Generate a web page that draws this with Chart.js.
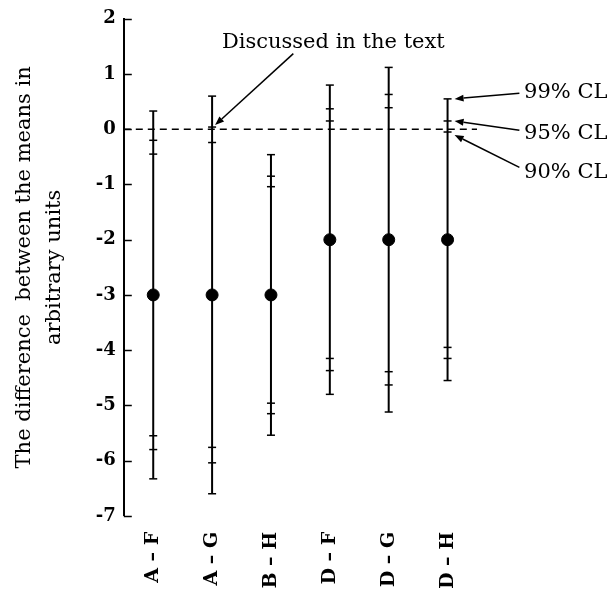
<!DOCTYPE html>
<html>
<head>
<meta charset="utf-8">
<script src="https://cdn.jsdelivr.net/npm/chart.js@4"></script>
<style>
  html, body { margin: 0; padding: 0; background: #fff; }
  #wrap { width: 613px; height: 595px; }
</style>
</head>
<body>
<div id="wrap"><canvas id="chart" width="613" height="595"></canvas></div>
<script>
// comparisons and the means of the differences
const categories = ['A \u2013 F', 'A \u2013 G', 'B \u2013 H', 'D \u2013 F', 'D \u2013 G', 'D \u2013 H'];
const means = [-3, -3, -3, -2, -2, -2];
// half widths of the confidence intervals
const half99 = [3.33, 3.6, 2.54, 2.8, 3.12, 2.55];
const half95 = [2.8, 3.04, 2.15, 2.37, 2.63, 2.15];
const half90 = [2.55, 2.76, 1.96, 2.15, 2.39, 1.95];
// y axis
const yMin = -7, yMax = 2;

const serif = '"DejaVu Serif", "Liberation Serif", serif';

// draws the error bars, the zero line, inward axis ticks and the notes
const extras = {
  id: 'extras',
  beforeDatasetsDraw(chart) {
    const ctx = chart.ctx;
    const x = chart.scales.x, y = chart.scales.y;
    const area = chart.chartArea;
    ctx.save();
    // dashed line at zero
    ctx.strokeStyle = '#000';
    ctx.lineWidth = 1.5;
    ctx.setLineDash([7, 5]);
    ctx.beginPath();
    ctx.moveTo(area.left, y.getPixelForValue(0));
    ctx.lineTo(area.right, y.getPixelForValue(0));
    ctx.stroke();
    ctx.setLineDash([]);

    // ticks on the inside of the y axis
    ctx.lineWidth = 1.5;
    for (let v = yMin; v <= yMax; v++) {
      const py = Math.round(y.getPixelForValue(v)) + 0.5;
      ctx.beginPath();
      ctx.moveTo(area.left, py);
      ctx.lineTo(area.left + 8, py);
      ctx.stroke();
    }

    // error bars
    means.forEach(function (m, i) {
      const px = x.getPixelForValue(i);
      ctx.lineWidth = 2;
      ctx.beginPath();
      ctx.moveTo(px, y.getPixelForValue(m + half99[i]));
      ctx.lineTo(px, y.getPixelForValue(m - half99[i]));
      ctx.stroke();
      ctx.lineWidth = 1.5;
      [half99[i], half95[i], half90[i]].forEach(function (h) {
        [m + h, m - h].forEach(function (v) {
          const py = y.getPixelForValue(v);
          ctx.beginPath();
          ctx.moveTo(px - 4, py);
          ctx.lineTo(px + 4, py);
          ctx.stroke();
        });
      });
    });
    ctx.restore();
  },
  afterDraw(chart) {
    const ctx = chart.ctx;
    const x = chart.scales.x, y = chart.scales.y;
    const P = (i, v) => [x.getPixelForValue(i), y.getPixelForValue(v)];
    ctx.save();
    ctx.fillStyle = '#000';
    ctx.strokeStyle = '#000';
    ctx.font = '21px ' + serif;
    ctx.textBaseline = 'middle';

    function arrow(from, to) {
      ctx.lineWidth = 1.5;
      const a = Math.atan2(to[1] - from[1], to[0] - from[0]);
      const len = 9, w = 3.5;
      const bx = to[0] - len * Math.cos(a), by = to[1] - len * Math.sin(a);
      ctx.beginPath();
      ctx.moveTo(from[0], from[1]);
      ctx.lineTo(bx, by);
      ctx.stroke();
      ctx.beginPath();
      ctx.moveTo(to[0], to[1]);
      ctx.lineTo(bx + w * Math.sin(a), by - w * Math.cos(a));
      ctx.lineTo(bx - w * Math.sin(a), by + w * Math.cos(a));
      ctx.closePath();
      ctx.fill();
    }

    // note about A - G
    ctx.textAlign = 'center';
    const t = P(3.06, 1.57);
    ctx.fillText('Discussed in the text', t[0], t[1]);
    const tipA = P(1, means[1] + half95[1]);
    arrow(P(2.38, 1.37), [tipA[0] + 3, tipA[1] - 2]);

    // confidence levels on D - H
    ctx.textAlign = 'left';
    const notes = [
      ['99% CL', 0.66, 0.65, means[5] + half99[5]],
      ['95% CL', -0.08, -0.02, means[5] + half95[5]],
      ['90% CL', -0.79, -0.69, means[5] + half90[5]]
    ];
    notes.forEach(function (n) {
      const tp = P(6.3, n[1]);
      ctx.fillText(n[0], tp[0], tp[1]);
      const tip = P(5, n[3]);
      arrow(P(6.22, n[2]), [tip[0] + 7, tip[1] + (n[0] === '90% CL' ? 3 : 0)]);
    });
    ctx.restore();
  }
};

new Chart(document.getElementById('chart').getContext('2d'), {
  type: 'line',
  data: {
    labels: categories,
    datasets: [{
      data: means,
      showLine: false,
      pointRadius: 6,
      pointHoverRadius: 6,
      pointBorderWidth: 1,
      pointBackgroundColor: '#000',
      pointBorderColor: '#000'
    }]
  },
  options: {
    responsive: false,
    animation: false,
    events: [],
    layout: { padding: { left: 10, right: 136, top: 10, bottom: -10 } },
    plugins: { legend: { display: false }, tooltip: { enabled: false } },
    scales: {
      x: {
        offset: true,
        grid: { display: false, drawTicks: false },
        border: { display: false },
        ticks: {
          minRotation: 90, maxRotation: 90, padding: 16,
          color: '#000', font: { family: serif, size: 19, weight: 'bold' }
        }
      },
      y: {
        min: yMin, max: yMax,
        grid: { drawOnChartArea: false, drawTicks: false },
        border: { display: true, color: '#000', width: 2 },
        ticks: {
          stepSize: 1, padding: 8, color: '#000',
          font: { family: serif, size: 18, weight: 'bold' }
        },
        title: {
          display: true,
          text: ['The difference  between the means in', 'arbitrary units'],
          color: '#000',
          font: { family: serif, size: 21, lineHeight: 1.4 },
          padding: { top: 0, bottom: 19 }
        }
      }
    }
  },
  plugins: [extras]
});
</script>
</body>
</html>
